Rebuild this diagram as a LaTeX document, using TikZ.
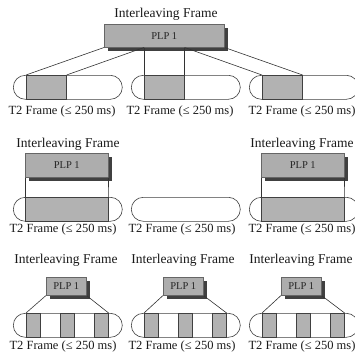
\documentclass[tikz,border=0pt]{standalone}
\usepackage{fontspec}
\setmainfont{Liberation Serif}
\usetikzlibrary{shadows}
\begin{document}
\begin{tikzpicture}[x=1pt,y=-1pt,
  capsule/.style={draw=black!75, line width=0.6pt, rounded corners=12pt, minimum width=109pt, minimum height=24pt, inner sep=0pt, anchor=north west, fill=white},
  seg/.style={draw=black!75, line width=0.6pt, fill=black!30, minimum height=24pt, inner sep=0pt, anchor=north west},
  plp/.style={draw=black!60, line width=0.5pt, fill=black!32, inner sep=0pt, anchor=north west, font=\fontsize{10.5}{12}\selectfont, text=black!85, drop shadow={shadow xshift=3.5pt, shadow yshift=-3.5pt, fill=black!75, opacity=1}},
  title/.style={font=\fontsize{13.5}{15}\selectfont, text=black!90},
  lab/.style={font=\fontsize{12.5}{14}\selectfont, text=black!90},
  link/.style={draw=black!80, line width=0.6pt}]
\useasboundingbox (0,0) rectangle (354,359);

% ---------- Row 1 ----------
\node[title] (t1) at (166,14) {Interleaving Frame};
\node[plp, minimum width=120pt, minimum height=23pt] (p1) at (104,24) {PLP 1};
\node[capsule] (c11) at (13,75) {};
\node[capsule] (c12) at (131,75) {};
\node[capsule] (c13) at (249,75) {};
\node[seg, minimum width=40pt] (s11) at (26,75) {};
\node[seg, minimum width=40pt] (s12) at (144,75) {};
\node[seg, minimum width=40pt] (s13) at (262,75) {};
\draw[link] (p1.south west) -- (s11.north west);
\draw[link] (s12.north west |- p1.south) -- (s11.north east);
\draw[link] (s12.north west |- p1.south) -- (s12.north west);
\draw[link] (s12.north east |- p1.south) -- (s12.north east);
\draw[link] (s12.north east |- p1.south) -- (s13.north west);
\draw[link] (p1.south east) -- (s13.north east);
\node[lab] (l11) at (62,111) {T2 Frame (≤ 250 ms)};
\node[lab] (l12) at (180,111) {T2 Frame (≤ 250 ms)};
\node[lab] (l13) at (302,111) {T2 Frame (≤ 250 ms)};

% ---------- Row 2 ----------
\node[title] (t21) at (68,144) {Interleaving Frame};
\node[title] (t22) at (302,144) {Interleaving Frame};
\node[plp, minimum width=83pt, minimum height=24pt] (p21) at (25,153) {PLP 1};
\node[plp, minimum width=83pt, minimum height=24pt] (p22) at (261,153) {PLP 1};
\node[capsule] (c21) at (13,197) {};
\node[capsule] (c22) at (131,197) {};
\node[capsule] (c23) at (249,197) {};
\node[seg, minimum width=83pt] (s21) at (25,197) {};
\node[seg, minimum width=83pt] (s23) at (261,197) {};
\draw[link] (p21.south west) -- (s21.north west);
\draw[link] (p21.south east) -- (s21.north east);
\draw[link] (p22.south west) -- (s23.north west);
\draw[link] (p22.south east) -- (s23.north east);
\node[lab] (l21) at (63,229) {T2 Frame (≤ 250 ms)};
\node[lab] (l22) at (182,229) {T2 Frame (≤ 250 ms)};
\node[lab] (l23) at (302,229) {T2 Frame (≤ 250 ms)};

% ---------- Row 3 ----------
\node[title] (t31) at (66,260) {Interleaving Frame};
\node[title] (t32) at (183,260) {Interleaving Frame};
\node[title] (t33) at (301,260) {Interleaving Frame};
\node[plp, minimum width=40pt, minimum height=18pt] (p31) at (46,277) {PLP 1};
\node[plp, minimum width=40pt, minimum height=18pt] (p32) at (163,277) {PLP 1};
\node[plp, minimum width=40pt, minimum height=18pt] (p33) at (281,277) {PLP 1};
\node[capsule] (c31) at (13,313) {};
\node[capsule] (c32) at (131,313) {};
\node[capsule] (c33) at (249,313) {};
\node[seg, minimum width=14pt] (b311) at (26,313) {};
\node[seg, minimum width=14pt] (b312) at (60,313) {};
\node[seg, minimum width=14pt] (b313) at (94,313) {};
\node[seg, minimum width=14pt] (b321) at (144,313) {};
\node[seg, minimum width=14pt] (b322) at (178,313) {};
\node[seg, minimum width=14pt] (b323) at (212,313) {};
\node[seg, minimum width=14pt] (b331) at (262,313) {};
\node[seg, minimum width=14pt] (b332) at (296,313) {};
\node[seg, minimum width=14pt] (b333) at (330,313) {};
\draw[link] (p31.south west) -- (b311.north west);
\draw[link] (p31.south east) -- (b313.north east);
\draw[link] (p32.south west) -- (b321.north west);
\draw[link] (p32.south east) -- (b323.north east);
\draw[link] (p33.south west) -- (b331.north west);
\draw[link] (p33.south east) -- (b333.north east);
\node[lab] (l31) at (63,346) {T2 Frame (≤ 250 ms)};
\node[lab] (l32) at (182,346) {T2 Frame (≤ 250 ms)};
\node[lab] (l33) at (302,346) {T2 Frame (≤ 250 ms)};
\end{tikzpicture}
\end{document}
